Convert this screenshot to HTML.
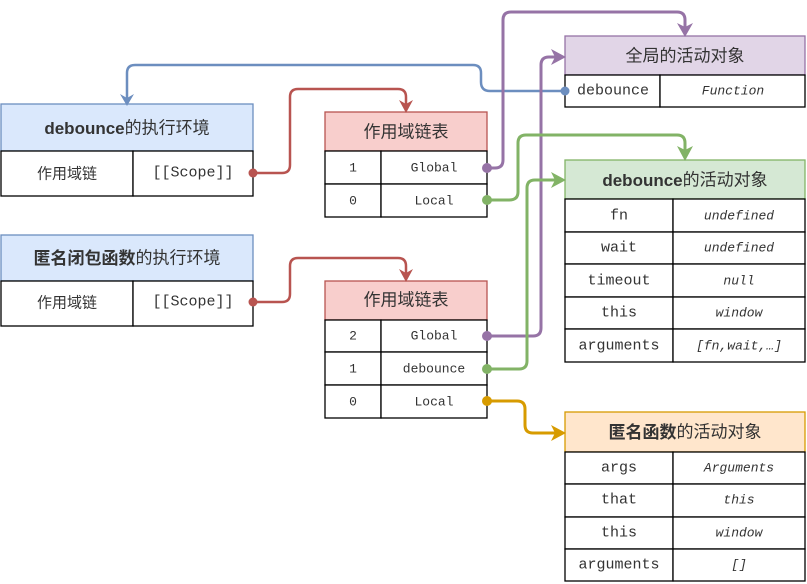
<!DOCTYPE html>
<html><head><meta charset="utf-8"><style>
html,body{margin:0;padding:0;background:#fff;}
svg{display:block;}
.h{font-family:"Liberation Sans","Noto Sans CJK SC",sans-serif;font-size:17px;fill:#333;text-anchor:middle;dominant-baseline:central;}
.m{font-family:"Liberation Mono","Noto Sans CJK SC",monospace;font-size:15px;fill:#333;text-anchor:middle;dominant-baseline:central;}
.c{font-family:"Noto Sans CJK SC",sans-serif;font-size:15px;fill:#333;text-anchor:middle;dominant-baseline:central;}
.s{font-family:"Liberation Mono",monospace;font-size:13px;fill:#333;text-anchor:middle;dominant-baseline:central;}
.i{font-family:"Liberation Mono",monospace;font-size:13px;font-style:italic;fill:#333;text-anchor:middle;dominant-baseline:central;}
.b{fill:#fff;stroke:#000;stroke-width:1.3;}
</style></head><body>
<svg width="807" height="584" viewBox="0 0 807 584" xmlns="http://www.w3.org/2000/svg">
<!-- left box 1 -->
<rect x="1" y="104" width="252" height="47" fill="#dae8fc" stroke="#6c8ebf" stroke-width="1.3"/>
<text class="h" x="127" y="128"><tspan font-weight="bold">debounce</tspan>的执行环境</text>
<rect class="b" x="1" y="151" width="132" height="45"/><rect class="b" x="133" y="151" width="120" height="45"/>
<text class="c" x="67" y="173">作用域链</text><text class="m" x="193" y="173">[[Scope]]</text>
<!-- left box 2 -->
<rect x="1" y="235" width="252" height="46" fill="#dae8fc" stroke="#6c8ebf" stroke-width="1.3"/>
<text class="h" x="127" y="258"><tspan font-weight="bold">匿名闭包函数</tspan>的执行环境</text>
<rect class="b" x="1" y="281" width="132" height="45"/><rect class="b" x="133" y="281" width="120" height="45"/>
<text class="c" x="67" y="302">作用域链</text><text class="m" x="193" y="302">[[Scope]]</text>
<!-- chain 1 -->
<rect x="325" y="112" width="162" height="39" fill="#f8cecc" stroke="#b85450" stroke-width="1.3"/>
<text class="h" x="406" y="132">作用域链表</text>
<rect class="b" x="325" y="151" width="56" height="33"/><rect class="b" x="381" y="151" width="106" height="33"/>
<rect class="b" x="325" y="184" width="56" height="33"/><rect class="b" x="381" y="184" width="106" height="33"/>
<text class="s" x="353" y="168">1</text><text class="s" x="434" y="168">Global</text>
<text class="s" x="353" y="201">0</text><text class="s" x="434" y="201">Local</text>
<!-- chain 2 -->
<rect x="325" y="281" width="162" height="39" fill="#f8cecc" stroke="#b85450" stroke-width="1.3"/>
<text class="h" x="406" y="300">作用域链表</text>
<rect class="b" x="325" y="320" width="56" height="32"/><rect class="b" x="381" y="320" width="106" height="32"/>
<rect class="b" x="325" y="352" width="56" height="33"/><rect class="b" x="381" y="352" width="106" height="33"/>
<rect class="b" x="325" y="385" width="56" height="33"/><rect class="b" x="381" y="385" width="106" height="33"/>
<text class="s" x="353" y="336">2</text><text class="s" x="434" y="336">Global</text>
<text class="s" x="353" y="369">1</text><text class="s" x="434" y="369">debounce</text>
<text class="s" x="353" y="402">0</text><text class="s" x="434" y="402">Local</text>
<!-- global AO -->
<rect x="565" y="36" width="240" height="39" fill="#e1d5e7" stroke="#9673a6" stroke-width="1.3"/>
<text class="h" x="685" y="56">全局的活动对象</text>
<rect class="b" x="565" y="75" width="95" height="32"/><rect class="b" x="660" y="75" width="145" height="32"/>
<text class="m" x="613" y="91">debounce</text><text class="i" x="733" y="91">Function</text>
<!-- debounce AO -->
<rect x="565" y="160" width="240" height="39" fill="#d5e8d4" stroke="#82b366" stroke-width="1.3"/>
<text class="h" x="685" y="180"><tspan font-weight="bold">debounce</tspan>的活动对象</text>
<g>
<rect class="b" x="565" y="199" width="108" height="33"/><rect class="b" x="673" y="199" width="132" height="33"/>
<rect class="b" x="565" y="232" width="108" height="32"/><rect class="b" x="673" y="232" width="132" height="32"/>
<rect class="b" x="565" y="264" width="108" height="33"/><rect class="b" x="673" y="264" width="132" height="33"/>
<rect class="b" x="565" y="297" width="108" height="32"/><rect class="b" x="673" y="297" width="132" height="32"/>
<rect class="b" x="565" y="329" width="108" height="33"/><rect class="b" x="673" y="329" width="132" height="33"/>
</g>
<text class="m" x="619" y="216">fn</text><text class="i" x="739" y="216">undefined</text>
<text class="m" x="619" y="248">wait</text><text class="i" x="739" y="248">undefined</text>
<text class="m" x="619" y="281">timeout</text><text class="i" x="739" y="281">null</text>
<text class="m" x="619" y="313">this</text><text class="i" x="739" y="313">window</text>
<text class="m" x="619" y="346">arguments</text><text class="i" x="739" y="346">[fn,wait,…]</text>
<!-- anon AO -->
<rect x="565" y="412" width="240" height="40" fill="#ffe6cc" stroke="#d79b00" stroke-width="1.3"/>
<text class="h" x="685" y="432"><tspan font-weight="bold">匿名函数</tspan>的活动对象</text>
<rect class="b" x="565" y="452" width="108" height="32"/><rect class="b" x="673" y="452" width="132" height="32"/>
<rect class="b" x="565" y="484" width="108" height="33"/><rect class="b" x="673" y="484" width="132" height="33"/>
<rect class="b" x="565" y="517" width="108" height="32"/><rect class="b" x="673" y="517" width="132" height="32"/>
<rect class="b" x="565" y="549" width="108" height="32"/><rect class="b" x="673" y="549" width="132" height="32"/>
<text class="m" x="619" y="468">args</text><text class="i" x="739" y="468">Arguments</text>
<text class="m" x="619" y="500">that</text><text class="i" x="739" y="500">this</text>
<text class="m" x="619" y="533">this</text><text class="i" x="739" y="533">window</text>
<text class="m" x="619" y="565">arguments</text><text class="i" x="739" y="565">[]</text>
<!-- connectors -->
<g fill="none" stroke-width="2.5" stroke-linejoin="round">
<path d="M565 91 H490 Q481 91 481 82 V73 Q481 65 473 65 H135 Q127 65 127 73 V98" stroke="#6c8ebf"/>
<path d="M253 173 H282 Q290 173 290 165 V97 Q290 89 298 89 H398 Q406 89 406 97 V106" stroke="#b85450"/>
<path d="M253 302 H282 Q290 302 290 294 V266 Q290 258 298 258 H398 Q406 258 406 266 V275" stroke="#b85450"/>
<path d="M487 168 H495 Q503 168 503 160 V20 Q503 12 511 12 H677 Q685 12 685 20 V30" stroke="#9673a6" stroke-width="3"/>
<path d="M487 336 H533 Q541 336 541 328 V65 Q541 57 549 57 H558" stroke="#9673a6" stroke-width="3"/>
<path d="M487 200 H509 Q518 200 518 192 V143 Q518 135 526 135 H677 Q685 135 685 143 V153" stroke="#82b366" stroke-width="3"/>
<path d="M487 369 H519 Q527 369 527 361 V188 Q527 180 535 180 H558" stroke="#82b366" stroke-width="3"/>
<path d="M487 401 H517 Q525 401 525 409 V425 Q525 433 533 433 H558" stroke="#d79b00" stroke-width="3"/>
</g>
<g>
<circle cx="565" cy="91" r="4.5" fill="#6c8ebf"/><path d="M120 94 L127 106 L134 94 L127 98Z" fill="#6c8ebf"/>
<circle cx="253" cy="173" r="4.5" fill="#b85450"/><path d="M399 100 L406 113 L413 100 L406 104Z" fill="#b85450"/>
<circle cx="253" cy="302" r="4.5" fill="#b85450"/><path d="M399 269 L406 282 L413 269 L406 273Z" fill="#b85450"/>
<circle cx="487" cy="168" r="5" fill="#9673a6"/><path d="M677 23 L685 37 L693 23 L685 27Z" fill="#9673a6"/>
<circle cx="487" cy="336" r="5" fill="#9673a6"/><path d="M551 49 L566 57 L551 65 L555 57Z" fill="#9673a6"/>
<circle cx="487" cy="200" r="5" fill="#82b366"/><path d="M677 146 L685 161 L693 146 L685 150Z" fill="#82b366"/>
<circle cx="487" cy="369" r="5" fill="#82b366"/><path d="M551 172 L566 180 L551 188 L555 180Z" fill="#82b366"/>
<circle cx="487" cy="401" r="5" fill="#d79b00"/><path d="M551 425 L566 433 L551 441 L555 433Z" fill="#d79b00"/>
</g>
</svg>
</body></html>
